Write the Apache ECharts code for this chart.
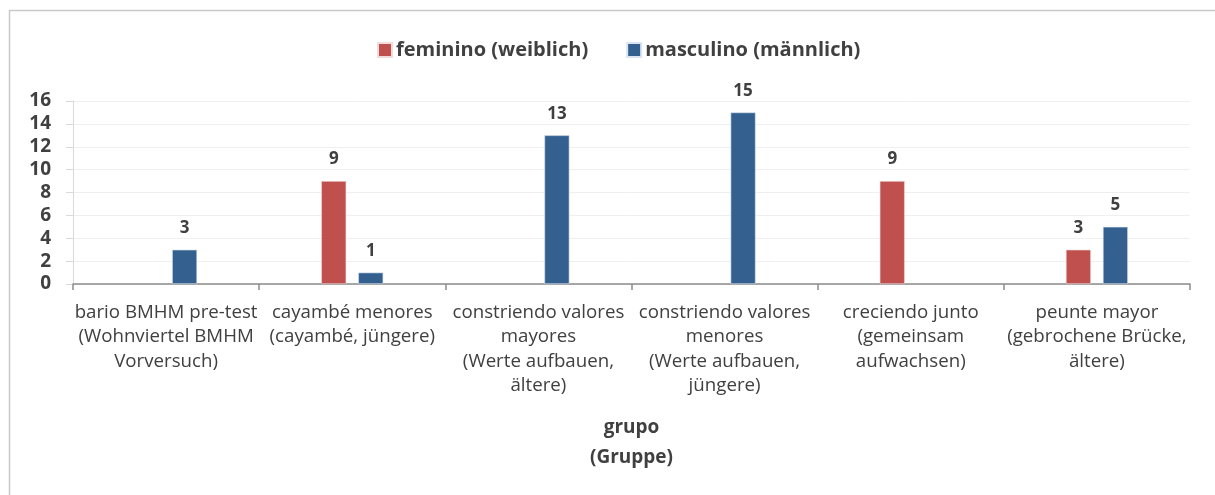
<!DOCTYPE html>
<html>
<head>
<meta charset="utf-8">
<script src="https://cdn.jsdelivr.net/npm/echarts@6/dist/echarts.min.js"></script>
<style>
  html, body { margin: 0; padding: 0; background: #fff; }
  #chart { width: 1215px; height: 495px; }
</style>
</head>
<body>
<div id="chart"></div>
<script>
// Groups on the category axis (Spanish name with German gloss)
const categories = [
  'bario BMHM pre-test\n(Wohnviertel BMHM\nVorversuch)',
  'cayambé menores\n(cayambé, jüngere)',
  'constriendo valores\nmayores\n(Werte aufbauen,\nältere)',
  'constriendo valores\nmenores\n(Werte aufbauen,\njüngere)',
  'creciendo junto\n(gemeinsam\naufwachsen)',
  'peunte mayor\n(gebrochene Brücke,\nältere)'
];
const seriesNames = ['feminino (weiblich)', 'masculino (männlich)'];
// Counts per group; null where the group has no entry
const femenino = [null, 9, null, null, 9, 3];
const masculino = [3, 1, 13, 15, null, 5];
const yTicks = [0, 2, 4, 6, 8, 10, 12, 14, 16];

const FONT = '"Open Sans", Lato, sans-serif';
const TEXT = '#404040';

const chart = echarts.init(document.getElementById('chart'), null, { renderer: 'canvas' });

const labelStyle = {
  show: true,
  position: 'top',
  distance: 13,
  fontFamily: FONT,
  fontWeight: 'bold',
  fontSize: 17,
  color: TEXT
};

chart.setOption({
  animation: false,
  backgroundColor: '#fff',
  graphic: [{
    type: 'rect',
    shape: { x: 9.5, y: 10.5, width: 1400, height: 700 },
    style: { fill: 'none', stroke: '#c9c9c9', lineWidth: 1.5 },
    silent: true,
    z: -1
  }],
  legend: {
    data: seriesNames,
    left: 372,
    top: 35,
    itemWidth: 14,
    itemHeight: 14,
    itemGap: 38,
    icon: 'rect',
    textStyle: { fontFamily: FONT, fontWeight: 'bold', fontSize: 20, color: TEXT, padding: [0, 0, 0, -1] }
  },
  grid: { left: 73, right: 25, top: 101, bottom: 211, containLabel: false },
  xAxis: {
    type: 'category',
    data: categories,
    name: 'grupo\n(Gruppe)',
    nameLocation: 'middle',
    nameGap: 129,
    nameTextStyle: { fontFamily: FONT, fontWeight: 'bold', fontSize: 19, color: TEXT, lineHeight: 30 },
    axisLine: { lineStyle: { color: '#8c8c8c', width: 1.5 } },
    axisTick: { show: true, alignWithLabel: false, length: 6, lineStyle: { color: '#8c8c8c', width: 1.5 } },
    axisLabel: {
      interval: 0,
      margin: 16,
      fontFamily: FONT,
      fontSize: 18.7,
      lineHeight: 24.5,
      color: TEXT
    }
  },
  yAxis: {
    type: 'value',
    min: yTicks[0],
    max: yTicks[yTicks.length - 1],
    interval: 2,
    axisLine: { show: true, lineStyle: { color: '#d9d9d9', width: 1 } },
    axisTick: { show: true, length: 7, lineStyle: { color: '#d9d9d9' } },
    splitLine: { lineStyle: { color: '#efefef', width: 1 } },
    axisLabel: {
      margin: 22,
      fontFamily: FONT,
      fontWeight: 'bold',
      fontSize: 19,
      color: TEXT
    }
  },
  series: [
    {
      name: seriesNames[0],
      type: 'bar',
      data: femenino,
      barWidth: 25,
      barGap: '48%',
      itemStyle: { color: '#c0504d', borderColor: '#f2dcdb', borderWidth: 0.6 },
      label: labelStyle
    },
    {
      name: seriesNames[1],
      type: 'bar',
      data: masculino,
      barWidth: 25,
      barGap: '48%',
      itemStyle: { color: '#34608f', borderColor: '#dbe5f1', borderWidth: 0.6 },
      label: labelStyle
    }
  ]
});
</script>
</body>
</html>
